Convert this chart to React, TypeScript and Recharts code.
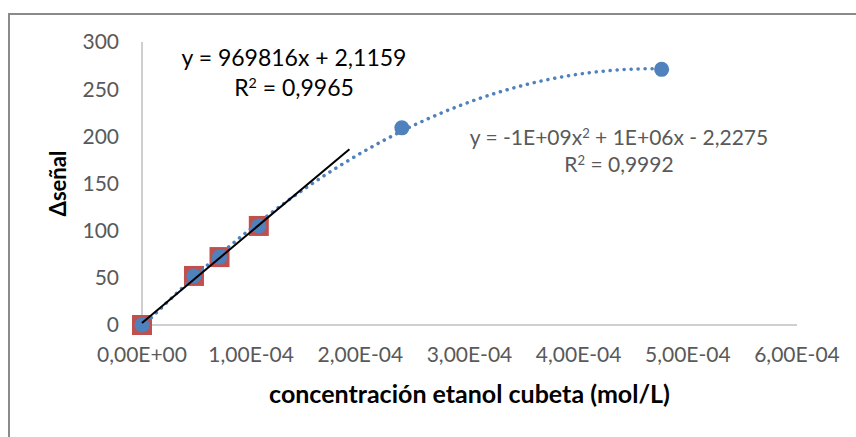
import { ScatterChart, Scatter, XAxis, YAxis, Label } from "recharts";

// concentración de etanol en la cubeta (mol/L) y Δseñal medida
const concentracion = [0, 4.76e-5, 7.1e-5, 1.07e-4, 2.38e-4, 4.76e-4];
const senal = [0, 52, 72, 105, 209, 271];

// serie del tramo lineal (primeros cuatro patrones)
const linealX = [0, 4.76e-5, 7.1e-5, 1.07e-4];
const linealY = [0, 52, 72, 105];

// ecuación de la línea de tendencia lineal, tal como se informa
const pendiente = 969816;
const ordenada = 2.1159;
const finTendencia = 1.9e-4;

const xTicks = [0, 1e-4, 2e-4, 3e-4, 4e-4, 5e-4, 6e-4];
const yTicks = [0, 50, 100, 150, 200, 250, 300];

const FONT = "Lato, 'Open Sans', sans-serif";
const AZUL = "#4F81BD";
const ROJO = "#C0504D";
const GRIS = "#595959";

const puntos = concentracion.map((x, i) => ({ x, y: senal[i] }));
const lineal = linealX.map((x, i) => ({ x, y: linealY[i] }));

// ajuste polinómico de orden 2 por mínimos cuadrados
function ajusteCuadratico(xs: number[], ys: number[]) {
  const k = 1e4; // escala para evitar números muy pequeños
  const u = xs.map((x) => x * k);
  const S = (p: number) => u.reduce((s, v) => s + Math.pow(v, p), 0);
  const T = (p: number) => u.reduce((s, v, i) => s + Math.pow(v, p) * ys[i], 0);
  const m = [
    [S(4), S(3), S(2)],
    [S(3), S(2), S(1)],
    [S(2), S(1), u.length],
  ];
  const r = [T(2), T(1), T(0)];
  const det = (a: number[][]) =>
    a[0][0] * (a[1][1] * a[2][2] - a[1][2] * a[2][1]) -
    a[0][1] * (a[1][0] * a[2][2] - a[1][2] * a[2][0]) +
    a[0][2] * (a[1][0] * a[2][1] - a[1][1] * a[2][0]);
  const d = det(m);
  const col = (j: number) => m.map((row, i) => row.map((v, c) => (c === j ? r[i] : v)));
  const a = det(col(0)) / d;
  const b = det(col(1)) / d;
  const c = det(col(2)) / d;
  return (x: number) => a * (x * k) ** 2 + b * (x * k) + c;
}

const poli = ajusteCuadratico(concentracion, senal);
const xMax = Math.max(...concentracion);
// la curva arranca donde el ajuste deja de ser negativo
const curva = Array.from({ length: 121 }, (_, i) => {
  const x = (xMax * i) / 120;
  return { x, y: poli(x) };
}).filter((p) => p.y >= 0);

const recta = [0, finTendencia].map((x) => ({ x, y: pendiente * x + ordenada }));

// formato científico estilo Excel con coma decimal: 1,00E-04
function cientifico(v: number) {
  if (v === 0) return "0,00E+00";
  const e = Math.floor(Math.log10(Math.abs(v)) + 1e-9);
  const m = v / Math.pow(10, e);
  const sign = e < 0 ? "-" : "+";
  return `${m.toFixed(2).replace(".", ",")}E${sign}${String(Math.abs(e)).padStart(2, "0")}`;
}

const nada = () => <g />;

const sup = { fontSize: "0.62em", verticalAlign: "0.55em", lineHeight: 0 } as const;

export default function App() {
  return (
    <div style={{ position: "absolute", left: 0, top: 0, width: 856, height: 437, background: "#fff", fontFamily: FONT }}>
      <div
        style={{
          position: "absolute",
          left: 8,
          top: 13,
          width: 848,
          height: 424,
          borderLeft: "2px solid #8a8a8a",
          borderTop: "2px solid #8a8a8a",
          boxSizing: "border-box",
        }}
      />
      <ScatterChart width={856} height={437} margin={{ top: 42, right: 59, bottom: 25, left: 42 }}>
        <XAxis
          type="number"
          dataKey="x"
          domain={[0, 6e-4]}
          ticks={xTicks}
          tickFormatter={cientifico}
          tickLine={false}
          tickSize={0}
          tickMargin={22}
          height={87}
          axisLine={{ stroke: "#BFBFBF", strokeWidth: 1.5 }}
          tick={{ fill: GRIS, fontSize: 21, fontFamily: FONT }}
        >
          <Label
            value="concentración etanol cubeta (mol/L)"
            position="insideBottom"
            offset={9}
            style={{ fill: "#000", fontSize: 25, fontWeight: 700, fontFamily: FONT }}
          />
        </XAxis>
        <YAxis
          type="number"
          dataKey="y"
          domain={[0, 300]}
          ticks={yTicks}
          tickLine={false}
          tickSize={0}
          tickMargin={23}
          width={100}
          axisLine={{ stroke: "#BFBFBF", strokeWidth: 1.5 }}
          tick={{ fill: GRIS, fontSize: 21, fontFamily: FONT }}
        >
          <Label
            value="Δseñal"
            angle={-90}
            position="insideLeft"
            offset={16}
            style={{ fill: "#000", fontSize: 22, fontWeight: 700, fontFamily: FONT, textAnchor: "middle" }}
          />
        </YAxis>
        <Scatter
          data={lineal}
          isAnimationActive={false}
          shape={(p: any) => <rect x={p.cx - 10} y={p.cy - 10} width={20} height={20} fill={ROJO} />}
        />
        <Scatter
          data={curva}
          isAnimationActive={false}
          shape={nada}
          line={{ stroke: AZUL, strokeWidth: 3.5, strokeDasharray: "0.1 6.9", strokeLinecap: "round", fill: "none" }}
          lineType="joint"
        />
        <Scatter
          data={puntos}
          isAnimationActive={false}
          shape={(p: any) => <circle cx={p.cx} cy={p.cy} r={7.5} fill={AZUL} />}
        />
        <Scatter
          data={recta}
          isAnimationActive={false}
          shape={nada}
          line={{ stroke: "#000", strokeWidth: 2, fill: "none" }}
          lineType="joint"
        />
      </ScatterChart>
      <div style={{ position: "absolute", left: 144, top: 42, width: 300, textAlign: "center", fontSize: 23, lineHeight: "30px", color: "#000" }}>
        <div>y = 969816x + 2,1159</div>
        <div>
          R<span style={sup}>2</span> = 0,9965
        </div>
      </div>
      <div style={{ position: "absolute", left: 459, top: 123, width: 320, textAlign: "center", fontSize: 21, lineHeight: "27px", color: GRIS }}>
        <div>
          y = -1E+09x<span style={sup}>2</span> + 1E+06x - 2,2275
        </div>
        <div>
          R<span style={sup}>2</span> = 0,9992
        </div>
      </div>
    </div>
  );
}
